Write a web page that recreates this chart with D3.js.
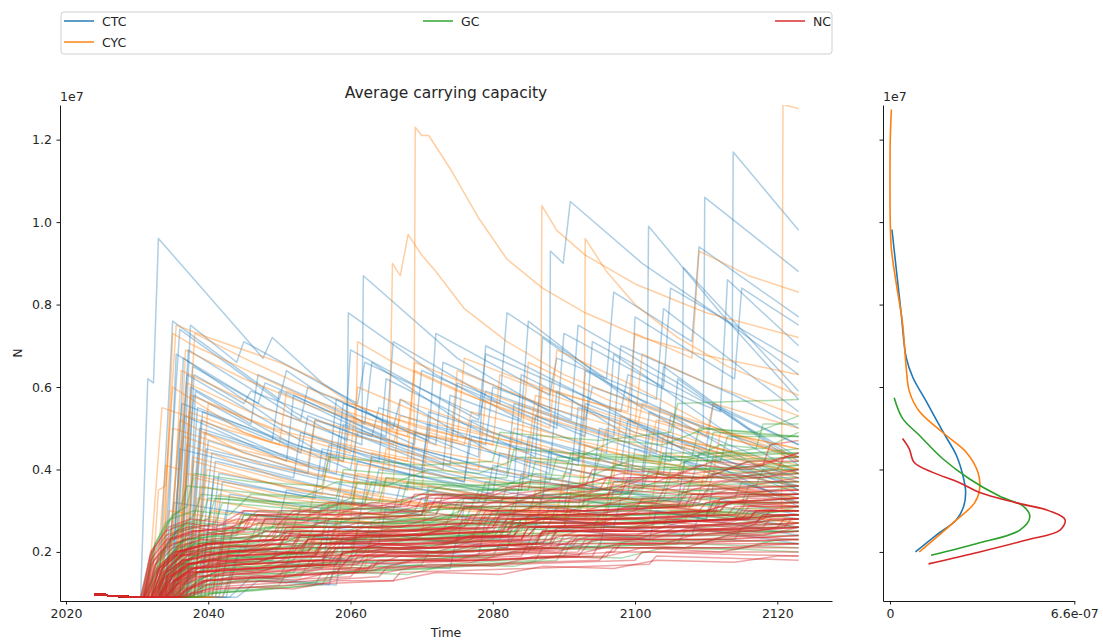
<!DOCTYPE html>
<html>
<head>
<meta charset="utf-8">
<script src="https://cdn.jsdelivr.net/npm/d3@7"></script>
<style>
  body { margin: 0; background: #fff; }
  svg text { font-family: "DejaVu Sans", sans-serif; fill: #262626; }
</style>
</head>
<body>
<svg id="chart" width="1103" height="641"></svg>
<script>
// Runs are flat lists of [year offset from 2000, N in millions, ...]
const yearBase = 2000;
const unit = 1e6;

// Shared observed history that every run starts from
const history = [24,.97, 25.5,.97, 26,.93, 28.5,.92, 29.5,.9];

const ctcRuns = [
  [30.5,.9, 31.5,6.2, 32.3,6.1, 33,9.6, 47.7,6.7, 49,7.2, 56,6.1, 66,5.0, 67,5.7, 80,4.4, 88,3.9, 89,5.9, 101,4.6, 112,3.8, 123,3.3],
  [33,.9, 35,7.6, 50,5.7, 51,6.4, 62,5.1, 63,6.6, 76,5.1, 86,4.3, 87,7.2, 100,5.6, 110,4.6, 113.6,4.4, 113.8,11.7, 123,9.8],
  [34,.9, 35.5,6.8, 48,5.5, 61.6,4.6, 61.8,8.7, 75,6.7, 88,5.4, 88.1,9.3, 89.9,9.0, 90.9,10.5, 101,9.0, 112,7.7, 123,6.3],
  [33.5,.9, 36,7.4, 52,5.4, 59.5,4.7, 59.7,7.8, 72,6.3, 84,5.2, 85,7.6, 97,6.0, 109.6,5.0, 109.8,10.6, 123,8.8],
  [35,.9, 36.5,6.7, 50,5.1, 64,4.2, 65,6.2, 80,4.9, 92,4.2, 93,6.4, 101.7,5.6, 101.9,9.9, 112,7.8, 123,5.7],
  [34.5,.9, 37,6.3, 55,4.5, 58,4.3, 59,5.6, 78,4.3, 79,7.0, 95,5.6, 106.6,4.5, 106.8,8.9, 123,5.9],
  [36,.9, 37.5,6.0, 52,4.6, 70,3.8, 71,5.4, 90,4.3, 99,3.9, 100,7.7, 114,6.2, 115,8.4, 123,7.5],
  [35.5,.9, 38,5.8, 53,4.4, 54,5.3, 73,4.0, 74,5.8, 96,4.4, 97,6.8, 112,5.0, 123,3.9],
  [36.5,.9, 38.5,5.5, 60,4.0, 61,4.9, 82,3.9, 83,5.6, 103,4.4, 104,6.5, 116,5.0, 123,4.3],
  [37,.9, 39,5.2, 55,4.0, 68,3.5, 69,4.9, 91,3.9, 92,5.5, 110,4.5, 111,5.6, 123,4.6],
  [35,.9, 36.7,5.3, 51,4.2, 52,5.8, 67,4.6, 85,3.8, 86,5.3, 105,4.2, 106,6.2, 123,4.1],
  [37.5,.9, 39.5,4.9, 58,3.9, 59,5.1, 77,4.0, 94,3.5, 95,5.0, 113,4.1, 123,3.6],
  [38,.9, 40,4.7, 56,3.8, 57,4.6, 76,3.7, 77,5.2, 98,4.1, 99,5.2, 123,3.5],
  [36,.9, 37.8,6.5, 47,5.6, 48,6.1, 65,4.8, 66,7.1, 81,5.6, 82,7.8, 96,6.2, 97,8.3, 108,7.1, 109,9.4, 123,7.7],
  [38.5,.9, 40.5,4.4, 62,3.5, 63,4.3, 84,3.5, 85,4.8, 104,3.9, 105,5.3, 123,3.5],
  [34,.9, 36.3,5.6, 49,4.7, 50,5.9, 66,4.6, 74,4.1, 75,6.1, 93,4.8, 94,7.1, 109,5.7, 123,4.6],
  [39,.9, 41,4.2, 63,3.3, 64,4.0, 87,3.3, 88,4.5, 108,3.7, 109,4.4, 123,3.4],
  [37,.9, 38.2,5.9, 46,5.1, 47,6.3, 69,4.6, 70,6.4, 89,5.0, 90,7.3, 104,6.0, 105,8.4, 117,7.2, 123,6.6],
  [39.5,.9, 41.5,3.9, 60,3.3, 61,4.2, 80,3.4, 81,4.4, 101,3.6, 102,4.9, 123,3.1],
  [40,.9, 42,3.7, 66,3.0, 67,3.6, 90,3.0, 91,4.0, 123,2.9],
  [36.8,.9, 38.8,5.0, 57,4.0, 58,5.7, 72,4.6, 73,6.6, 91,5.2, 92,7.5, 106,6.1, 123,4.2],
  [35.3,.9, 37.2,6.9, 53,5.2, 54,6.0, 71,4.7, 72,7.3, 88,5.8, 89,6.7, 103,5.7, 104,7.9, 123,5.4],
  [41,.9, 43,3.4, 58,3.0, 59,3.9, 79,3.2, 80,4.1, 99,3.4, 100,4.5, 119,3.7, 123,3.6],
  [38,.9, 39.7,4.5, 54,3.9, 55,5.2, 75,4.0, 83,3.7, 84,6.3, 100,4.9, 111,4.3, 123,3.7],
  [42,.9, 44,1.9, 56,1.6, 57,2.6, 75,2.2, 76,3.1, 97,2.6, 98,3.3, 123,2.6],
  [43,.9, 46,1.4, 58,1.2, 59,2.2, 78,1.9, 79,2.8, 102,2.3, 103,3.0, 123,2.4],
  [40.5,.9, 42.5,3.0, 61,2.6, 62,3.5, 83,2.9, 84,3.9, 106,3.2, 107,4.2, 123,3.2],
  [36.3,.9, 38,6.3, 45,5.6, 46,5.9, 63,4.8, 64,5.5, 79,4.6, 80,6.0, 93,5.2, 94,6.0, 112,4.9, 123,4.3],
  [41.5,.9, 43.5,2.6, 64,2.2, 65,3.1, 86,2.6, 87,3.4, 110,2.8, 111,3.6, 123,3.2],
  [34.8,.9, 36,4.5, 52,3.8, 53,4.9, 70,4.0, 71,5.1, 92,4.1, 93,5.6, 110,4.5, 123,3.8],
  [37.3,.9, 39.2,5.4, 59,4.2, 60,6.9, 78,5.2, 79,5.9, 97,4.8, 98,7.0, 114,5.8, 123,5.0],
  [44,.9, 47,1.3, 57,1.2, 58,1.8, 74,1.6, 75,2.4, 95,2.1, 96,2.9, 123,2.2],
  [38.8,.9, 40.8,3.8, 55,3.3, 56,4.5, 76,3.7, 77,4.8, 101,3.9, 102,5.4, 123,3.9],
  [35.8,.9, 37.5,7.5, 44,6.6, 45,7.1, 61,5.6, 62,6.6, 78,5.3, 79,6.8, 98,5.4, 99,6.3, 112,5.4, 113,8.6, 123,7.0],
  [33.8,.9, 35.2,3.2, 50,2.8, 51,3.5, 70,2.9, 71,3.6, 96,2.9, 97,3.5, 123,2.8],
  [42.5,.9, 44.5,2.1, 60,1.8, 61,2.5, 82,2.1, 83,2.9, 108,2.4, 109,2.9, 123,2.6]
];

const cycRuns = [
  [34,.9, 36,5.2, 45,4.4, 55,3.9, 60,3.7, 68.9,3.5, 69.1,12.3, 70,12.1, 71,12.1, 74,11.3, 78,10.1, 82,9.1, 87,8.4, 93,7.8, 101,7.2, 109,6.8, 123,6.3],
  [33,.9, 35,6.0, 45,4.9, 55,4.3, 65.4,4.0, 65.9,9.0, 67,8.7, 68.1,9.7, 70,9.2, 72,8.8, 76,7.9, 82,7.1, 90,6.3, 100,5.6, 110,5.0, 123,4.5],
  [35,.9, 37,4.6, 50,3.8, 62,3.3, 75,3.1, 86.7,3.0, 86.9,10.4, 89,9.8, 93,9.2, 100,8.5, 110,7.8, 123,7.2],
  [36,.9, 38,4.2, 52,3.5, 70,3.1, 80,3.0, 92.8,3.1, 93,9.6, 96,8.8, 100,8.0, 106,7.2, 113,6.5, 123,5.8],
  [37,.9, 39,3.6, 55,3.0, 72,2.8, 85,2.7, 86,3.5, 110,3.1, 120.6,3.0, 120.8,12.85, 122,12.8, 123,12.75],
  [32,.9, 33,3.5, 34,3.6, 35.5,7.5, 40,7.2, 50,6.6, 55,6.2, 60,5.6, 70,5.0, 80,4.6, 81,6.3, 90,5.7, 100,5.1, 101,6.8, 110,6.1, 123,5.3],
  [33.5,.9, 35,7.3, 38,7.0, 48,6.2, 58,5.4, 68,4.8, 69,6.4, 78,5.7, 88,5.0, 89,6.9, 99,6.1, 110,5.1, 123,4.2],
  [36,.9, 38.1,7.3, 45,6.7, 55,5.9, 65,5.3, 75,4.8, 85,4.4, 86,5.8, 100,5.0, 114,4.4, 123,4.0],
  [38,.9, 40,5.6, 50,4.9, 60,4.4, 61,6.0, 72,5.2, 84,4.6, 85,6.6, 96,5.7, 108,5.0, 123,4.3],
  [34,.9, 36.5,4.8, 48,4.1, 60,3.7, 70,3.5, 71,4.9, 85,4.2, 97,3.8, 98,5.3, 112,4.5, 123,4.0],
  [35,.9, 37,3.9, 50,3.4, 62,3.1, 63,4.4, 78,3.8, 92,3.4, 93,4.6, 108,3.9, 123,3.5],
  [36.5,.9, 38.5,3.3, 52,2.9, 64,2.7, 65,3.8, 81,3.3, 96,3.0, 97,4.2, 113,3.6, 123,3.3],
  [32.5,.9, 34,4.1, 36,4.0, 37,6.1, 47,5.3, 57,4.7, 67,4.3, 78,4.0, 79,5.7, 92,5.0, 104,4.4, 123,3.8],
  [37.5,.9, 39.5,2.8, 55,2.5, 70,2.4, 71,3.5, 88,3.0, 102,2.8, 103,3.9, 123,3.2],
  [39,.9, 41,2.5, 58,2.2, 59,3.0, 75,2.7, 90,2.6, 91,3.5, 110,3.0, 123,2.8],
  [35.5,.9, 37.3,5.4, 48,4.7, 59,4.2, 60,5.2, 74,4.5, 75,6.4, 88,5.5, 100,4.9, 123,3.9],
  [33,.9, 34.5,3.0, 46,2.7, 58,2.6, 59,3.4, 76,3.0, 93,2.8, 94,3.7, 123,3.1],
  [40,.9, 42,2.2, 57,2.0, 58,2.8, 77,2.5, 95,2.4, 96,3.2, 123,2.7],
  [36,.9, 37.8,4.3, 51,3.7, 64,3.4, 65,4.5, 83,3.9, 98,3.5, 99,4.3, 123,3.6],
  [38.5,.9, 40.5,3.0, 54,2.7, 55,3.6, 73,3.1, 89,2.9, 90,3.9, 109,3.4, 110,4.1, 123,3.7],
  [41,.9, 43,2.0, 60,1.9, 61,2.6, 82,2.4, 83,3.0, 107,2.7, 108,3.3, 123,3.0],
  [34.5,.9, 36.2,6.4, 46,5.6, 56,5.0, 66,4.6, 67,5.3, 82,4.7, 95,4.2, 96,5.0, 110,4.4, 123,3.9],
  [37,.9, 39,4.9, 53,4.1, 66,3.7, 67,5.7, 80,4.9, 93,4.3, 106,3.8, 107,4.6, 123,4.0],
  [39.5,.9, 41.5,3.4, 60,2.8, 61,3.9, 80,3.3, 92,3.0, 93,4.1, 114,3.5, 123,3.3],
  [35.8,.9, 37.5,5.8, 49,5.0, 60,4.5, 68,4.2, 69,6.6, 80,5.8, 90,5.2, 100,4.7, 101,5.6, 115,4.8, 123,4.3],
  [42,.9, 44,1.7, 62,1.6, 63,2.4, 84,2.2, 85,2.9, 104,2.6, 105,3.0, 123,2.6],
  [38,.9, 39.8,4.0, 56,3.4, 57,4.4, 71,3.9, 84,3.5, 85,4.3, 103,3.8, 104,4.8, 123,4.1],
  [33.2,.9, 35,5.0, 44,4.5, 54,4.1, 55,5.2, 70,4.5, 82,4.1, 83,5.0, 97,4.4, 111,3.9, 112,4.9, 123,4.5],
  [36.3,.9, 38,3.8, 50,3.3, 60.5,3.1, 61,7.1, 66,6.6, 75,5.9, 86,5.2, 87,6.0, 100,5.3, 110,4.8, 111,5.6, 123,5.0],
  [40.5,.9, 42.5,2.6, 56,2.4, 57,3.2, 74,2.9, 90,2.7, 91,3.4, 109,3.0, 123,2.7],
  [31.5,.9, 33.5,5.5, 42,5.0, 50,4.6, 51,5.9, 63,5.2, 76,4.6, 77,5.4, 92,4.7, 102,4.3, 103,5.2, 123,4.3],
  [35.2,.9, 36.8,6.9, 45,6.2, 55,5.5, 65,5.0, 75,4.7, 76,6.7, 88,5.9, 99,5.4, 100,7.3, 108,6.7, 109,9.3, 116,8.7, 123,8.3]
];

const gcRuns = [
  [31,.9, 33,1.6, 36,2.1, 42,2.3, 50,2.4, 51,2.8, 63,2.7, 75,2.9, 76,3.3, 90,3.3, 104,3.5, 105,4.0, 123,4.1],
  [32,.9, 34,1.5, 38,1.9, 48,2.0, 60,2.1, 61,2.5, 75,2.5, 88,2.7, 89,3.1, 105,3.1, 123,3.3],
  [33,.9, 35,1.4, 39,1.8, 47,1.9, 55,2.0, 56,2.3, 70,2.4, 84,2.5, 85,2.9, 100,2.9, 115,3.0, 116,3.4, 123,3.4],
  [34,.9, 36,1.3, 40,1.6, 52,1.8, 53,2.1, 68,2.1, 80,2.3, 81,2.6, 98,2.6, 112,2.8, 123,2.9],
  [31.5,.9, 33,1.8, 35,2.4, 38,2.9, 39,3.4, 50,3.2, 60,3.1, 61,3.7, 75,3.5, 85,3.5, 86,4.2, 100,4.0, 110,4.1, 111,4.9, 123,4.8],
  [35,.9, 37,1.2, 41,1.5, 50,1.6, 58,1.7, 59,2.0, 72,2.0, 86,2.1, 87,2.5, 104,2.5, 123,2.6],
  [36,.9, 38,1.1, 42,1.3, 50,1.4, 51,1.7, 66,1.8, 80,1.9, 81,2.2, 100,2.3, 114,2.3, 115,2.6, 123,2.6],
  [32.5,.9, 34,1.7, 37,2.2, 44,2.4, 45,2.9, 58,2.8, 70,2.9, 71,3.4, 84,3.3, 96,3.5, 97,4.1, 112,4.0, 123,4.2],
  [33.5,.9, 35.5,1.6, 39,2.0, 49,2.1, 62,2.3, 63,2.7, 79,2.7, 92,2.9, 93,3.3, 110,3.3, 123,3.4],
  [37,.9, 39,1.0, 44,1.1, 50,1.2, 51,1.5, 60,1.5, 70,1.7, 71,2.0, 90,2.1, 106,2.2, 107,2.5, 123,2.5],
  [38,.9, 40,1.0, 46,1.05, 55,1.2, 56,1.5, 70,1.6, 86,1.8, 87,2.1, 108,2.2, 123,2.1],
  [30.5,.9, 32,2.0, 34,2.7, 36,3.0, 37,3.6, 48,3.4, 58,3.3, 59,4.0, 72,3.8, 82,3.8, 83,4.5, 98,4.3, 108,4.3, 109,5.0, 123,4.8],
  [34.5,.9, 36.5,1.5, 40,1.9, 45,2.0, 46,2.4, 60,2.3, 73,2.5, 74,2.9, 91,2.9, 106,3.1, 107,3.6, 123,3.7],
  [32,.9, 33.5,1.9, 36,2.5, 41,2.7, 42,3.2, 55,3.0, 67,3.1, 68,3.7, 83,3.5, 94,3.7, 95,4.3, 112,4.2, 113,4.8, 123,4.8],
  [35.5,.9, 37.5,1.4, 41,1.7, 53,1.9, 54,2.3, 69,2.3, 83,2.5, 84,2.8, 102,2.9, 123,3.0],
  [33,.9, 35,1.7, 38,2.2, 47,2.4, 48,2.8, 64,2.7, 78,2.9, 79,3.3, 95,3.3, 110,3.4, 111,3.9, 123,4.0],
  [36.5,.9, 38.5,1.3, 42,1.6, 54,1.7, 55,2.0, 70,2.0, 85,2.2, 86,2.6, 105,2.6, 123,2.8],
  [31,.9, 32.5,2.2, 35,2.9, 37,3.1, 38,3.9, 46,3.7, 56,3.6, 57,4.3, 70,4.1, 80,4.2, 81,4.9, 95,4.7, 105,4.9, 106,5.6, 123,5.7],
  [34,.9, 36,1.5, 39,1.9, 50,2.1, 51,2.5, 66,2.5, 80,2.7, 81,3.1, 99,3.1, 115,3.2, 116,3.6, 123,3.6],
  [37.5,.9, 39.5,1.2, 43,1.4, 52,1.5, 53,1.8, 68,1.9, 82,2.1, 83,2.4, 101,2.4, 123,2.5],
  [32.5,.9, 34.5,1.6, 37,2.0, 45,2.2, 56,2.4, 57,2.8, 72,2.8, 85,3.0, 86,3.4, 102,3.4, 117,3.6, 118,4.0, 123,4.0],
  [35,.9, 37,1.3, 40,1.7, 51,1.8, 62,2.0, 63,2.3, 79,2.4, 94,2.5, 95,2.9, 113,2.9, 123,3.0],
  [33,.9, 34.5,1.9, 37,2.4, 42,2.5, 52,2.6, 53,3.1, 66,3.0, 78,3.2, 79,3.7, 92,3.6, 103,3.8, 104,4.4, 123,4.4],
  [38.5,.9, 40.5,1.0, 47,1.1, 57,1.3, 58,1.6, 74,1.7, 90,1.9, 91,2.2, 112,2.3, 123,2.2],
  [36,.9, 38,1.4, 42,1.7, 49,1.8, 50,2.2, 64,2.2, 77,2.3, 78,2.7, 96,2.7, 110,2.8, 111,3.2, 123,3.2],
  [34,.9, 35.5,1.8, 38,2.3, 44,2.5, 45,2.9, 59,2.8, 72,2.9, 73,3.4, 88,3.3, 101,3.5, 102,4.0, 118,4.0, 123,4.1],
  [31.5,.9, 33,1.7, 35.5,2.2, 41,2.5, 49,2.6, 50,3.0, 65,2.9, 77,3.1, 78,3.5, 93,3.5, 106,3.7, 107,4.2, 123,4.3],
  [37,.9, 39,1.2, 42,1.5, 56,1.7, 57,2.0, 73,2.1, 88,2.2, 89,2.6, 109,2.6, 123,2.7],
  [32,.9, 33.5,2.0, 36,2.6, 40,2.8, 41,3.3, 53,3.1, 64,3.2, 65,3.8, 79,3.6, 90,3.8, 91,4.4, 107,4.3, 117,4.5, 118,5.1, 123,5.1],
  [35.5,.9, 37.5,1.5, 41,1.8, 48,1.9, 58,2.0, 59,2.4, 75,2.4, 90,2.6, 91,3.0, 108,3.0, 123,3.1],
  [33.5,.9, 35,1.8, 38,2.2, 46,2.3, 47,2.7, 61,2.6, 74,2.8, 75,3.2, 90,3.2, 104,3.3, 105,3.8, 123,3.8],
  [39,.9, 41,1.0, 48,1.1, 56,1.2, 57,1.5, 72,1.6, 89,1.8, 90,2.1, 111,2.1, 123,2.0],
  [34.5,.9, 36,1.6, 39,2.0, 44,2.1, 54,2.3, 55,2.7, 69,2.7, 82,2.8, 83,3.2, 99,3.2, 114,3.3, 115,3.7, 123,3.7],
  [36.5,.9, 38.5,1.3, 42,1.6, 51,1.7, 52,2.1, 67,2.1, 81,2.3, 82,2.7, 100,2.7, 116,2.8, 123,2.9],
  [31,.9, 32.5,2.0, 35,2.6, 39,2.8, 40,3.3, 51,3.2, 62,3.2, 63,3.7, 76,3.6, 88,3.7, 89,4.3, 104,4.2, 123,4.5],
  [33,.9, 35,1.5, 38,1.9, 43,2.0, 57,2.2, 58,2.6, 71,2.6, 87,2.7, 88,3.1, 103,3.1, 123,3.2],
  [35,.9, 36.5,1.7, 39,2.1, 47,2.2, 48,2.6, 61,2.6, 76,2.7, 77,3.1, 94,3.1, 107,3.3, 108,3.8, 123,3.9],
  [32,.9, 34,1.8, 36.5,2.3, 43,2.4, 55,2.6, 56,3.1, 69,3.0, 81,3.1, 82,3.6, 97,3.5, 110,3.7, 111,4.3, 123,4.4],
  [37.5,.9, 39.5,1.1, 44,1.3, 53,1.4, 54,1.7, 69,1.8, 85,2.0, 86,2.3, 106,2.4, 123,2.4],
  [34,.9, 36,1.4, 40,1.8, 51,1.9, 52,2.2, 67,2.3, 83,2.4, 84,2.8, 103,2.8, 123,2.9],
  [31.2,.9, 33,1.9, 35.5,2.5, 39,2.7, 44,2.6, 47,3.0, 54,2.9, 60,3.3, 67,3.2, 73,3.6, 80,3.5, 86,3.9, 93,3.8, 99,4.2, 106,4.1, 112,4.6, 118,4.5, 123,4.9],
  [33.2,.9, 35,1.6, 37.8,2.0, 42,2.1, 48,2.0, 53,2.4, 60,2.3, 66,2.6, 74,2.5, 80,2.9, 88,2.8, 94,3.2, 102,3.1, 108,3.5, 116,3.4, 123,3.6],
  [35.8,.9, 37.8,1.2, 41,1.4, 46,1.5, 52,1.45, 57,1.7, 65,1.65, 71,1.9, 79,1.85, 85,2.1, 94,2.05, 100,2.3, 109,2.2, 115,2.5, 123,2.5],
  [32.2,.9, 34,1.8, 36.8,2.3, 41,2.4, 46,2.3, 50,2.7, 57,2.6, 63,3.0, 70,2.9, 76,3.3, 83,3.2, 89,3.6, 96,3.5, 102,3.9, 110,3.8, 116,4.2, 123,4.3],
  [34.2,.9, 36,1.5, 39,1.8, 44,1.9, 50,1.85, 55,2.1, 62,2.05, 68,2.3, 76,2.25, 82,2.6, 90,2.5, 96,2.8, 104,2.7, 110,3.0, 118,2.9, 123,3.1],
  [30.8,.9, 32.4,2.1, 34.8,2.8, 38,3.0, 43,2.9, 46,3.4, 53,3.3, 58,3.7, 65,3.6, 71,4.0, 78,3.9, 84,4.3, 91,4.2, 97,4.7, 104,4.6, 110,5.0, 117,4.9, 123,5.3],
  [36.8,.9, 38.8,1.1, 42,1.25, 48,1.3, 54,1.25, 60,1.5, 68,1.45, 74,1.7, 83,1.65, 89,1.9, 98,1.85, 104,2.1, 114,2.05, 120,2.3, 123,2.3],
  [32.8,.9, 34.6,1.7, 37.3,2.1, 41,2.2, 47,2.1, 51,2.5, 58,2.4, 64,2.8, 71,2.7, 77,3.1, 84,3.0, 90,3.4, 97,3.3, 103,3.7, 111,3.6, 117,3.9, 123,3.9]
];

const ncRuns = [
  [31,.9, 32.5,1.5, 35,1.9, 40,2.1, 50,2.2, 51,2.4, 62,2.4, 75,2.6, 76,2.8, 90,2.9, 100,3.0, 101,3.3, 123,3.4],
  [32,.9, 33.5,1.3, 36,1.7, 42,1.8, 55,1.9, 56,2.1, 70,2.2, 85,2.4, 86,2.6, 103,2.7, 123,2.9],
  [33,.9, 34.5,1.2, 37,1.5, 45,1.6, 57,1.7, 58,1.9, 72,2.0, 88,2.1, 89,2.4, 107,2.4, 123,2.6],
  [31.5,.9, 33,1.6, 35.5,2.0, 39,2.2, 48,2.3, 49,2.5, 63,2.5, 76,2.6, 77,2.9, 94,3.0, 108,3.1, 109,3.4, 123,3.5],
  [34,.9, 35.5,1.2, 38,1.4, 44,1.5, 54,1.6, 55,1.8, 70,1.8, 84,1.9, 85,2.2, 104,2.2, 123,2.3],
  [32.5,.9, 34,1.4, 37,1.8, 43,2.0, 53,2.0, 54,2.3, 67,2.3, 81,2.4, 82,2.7, 99,2.7, 114,2.8, 115,3.0, 123,3.0],
  [35,.9, 36.5,1.1, 39,1.3, 46,1.4, 58,1.5, 59,1.7, 76,1.8, 92,1.9, 93,2.1, 112,2.1, 123,2.2],
  [30.8,.9, 32,1.7, 34,2.1, 38,2.4, 47,2.5, 48,2.8, 60,2.8, 72,2.9, 73,3.2, 87,3.2, 99,3.3, 100,3.6, 116,3.6, 123,3.8],
  [33.5,.9, 35,1.3, 37.5,1.6, 44,1.8, 56,1.9, 57,2.1, 71,2.1, 86,2.3, 87,2.5, 105,2.6, 123,2.7],
  [36,.9, 37.5,1.0, 40,1.2, 48,1.3, 60,1.4, 61,1.6, 78,1.7, 95,1.8, 96,2.0, 123,2.0],
  [32,.9, 33.5,1.5, 36,1.9, 41,2.1, 52,2.2, 53,2.5, 66,2.4, 80,2.6, 81,2.9, 97,2.9, 112,3.0, 113,3.2, 123,3.2],
  [34.5,.9, 36,1.2, 38.5,1.5, 47,1.6, 60,1.8, 61,2.0, 77,2.0, 91,2.2, 92,2.4, 110,2.5, 123,2.6],
  [31,.9, 32.5,1.7, 35,2.2, 39,2.4, 45,2.5, 46,2.8, 58,2.8, 70,2.9, 71,3.2, 84,3.2, 96,3.3, 97,3.7, 111,3.7, 123,3.9],
  [33,.9, 34.5,1.4, 37,1.7, 42,1.9, 52,2.0, 53,2.2, 68,2.2, 82,2.4, 83,2.6, 100,2.7, 115,2.8, 116,3.0, 123,3.0],
  [35.5,.9, 37,1.1, 39.5,1.3, 50,1.4, 63,1.6, 64,1.8, 80,1.8, 97,2.0, 98,2.2, 123,2.3],
  [32,.9, 33.5,1.6, 36,2.0, 40,2.2, 50,2.3, 51,2.6, 64,2.6, 78,2.7, 79,3.0, 94,3.0, 109,3.2, 110,3.5, 123,3.6],
  [34,.9, 35.5,1.3, 38,1.6, 45,1.7, 58,1.8, 59,2.0, 73,2.1, 88,2.2, 89,2.5, 106,2.5, 123,2.7],
  [30.5,.9, 31.8,1.9, 34,2.4, 37,2.6, 44,2.7, 45,3.0, 57,3.0, 68,3.1, 69,3.4, 82,3.4, 93,3.6, 94,4.0, 108,3.9, 118,4.1, 119,4.6, 123,4.7],
  [33,.9, 34.5,1.3, 37,1.6, 43,1.8, 55,1.9, 56,2.2, 69,2.2, 84,2.3, 85,2.6, 102,2.6, 117,2.7, 118,2.9, 123,2.9],
  [36.5,.9, 38,1.0, 41,1.15, 50,1.25, 64,1.4, 65,1.6, 83,1.7, 100,1.8, 101,2.0, 123,1.9],
  [31.5,.9, 33,1.5, 35.5,1.9, 41,2.0, 50,2.1, 51,2.4, 65,2.4, 79,2.5, 80,2.8, 96,2.8, 110,2.9, 111,3.2, 123,3.3],
  [32.5,.9, 34,1.5, 36.5,1.8, 42,2.0, 54,2.1, 55,2.4, 68,2.4, 81,2.5, 82,2.8, 98,2.8, 113,2.9, 114,3.1, 123,3.2],
  [34,.9, 35.5,1.2, 38,1.5, 46,1.6, 59,1.7, 60,1.9, 75,1.9, 90,2.1, 91,2.3, 109,2.3, 123,2.5],
  [31,.9, 32.3,1.8, 34.5,2.3, 38,2.5, 46,2.6, 47,2.9, 59,2.9, 71,3.0, 72,3.3, 86,3.3, 98,3.4, 99,3.8, 114,3.8, 123,4.0],
  [33.5,.9, 35,1.4, 37.5,1.7, 44,1.9, 57,2.0, 58,2.2, 72,2.3, 87,2.4, 88,2.7, 104,2.7, 123,2.9],
  [35,.9, 36.5,1.2, 39,1.4, 48,1.5, 61,1.7, 62,1.9, 78,1.9, 93,2.1, 94,2.3, 113,2.3, 123,2.4],
  [32,.9, 33.5,1.6, 36,2.0, 41,2.2, 51,2.3, 52,2.5, 66,2.5, 80,2.6, 81,2.9, 97,2.9, 111,3.0, 112,3.3, 123,3.4],
  [33,.9, 34.5,1.5, 37,1.9, 43,2.0, 53,2.1, 54,2.3, 67,2.4, 82,2.5, 83,2.8, 99,2.8, 114,2.9, 115,3.1, 123,3.1],
  [34.5,.9, 36,1.3, 38.5,1.6, 45,1.7, 56,1.8, 57,2.0, 71,2.1, 86,2.2, 87,2.5, 104,2.5, 118,2.6, 119,2.8, 123,2.8],
  [31.2,.9, 32.6,1.7, 35,2.1, 39,2.3, 49,2.4, 50,2.7, 62,2.7, 75,2.8, 76,3.1, 91,3.1, 103,3.2, 104,3.5, 123,3.6],
  [36,.9, 37.5,1.1, 40,1.3, 49,1.4, 62,1.5, 63,1.7, 79,1.8, 96,1.9, 97,2.1, 123,2.1],
  [32.8,.9, 34.2,1.4, 36.8,1.8, 42,1.9, 54,2.0, 55,2.3, 69,2.3, 83,2.4, 84,2.7, 101,2.7, 116,2.8, 117,3.0, 123,3.1],
  [33.8,.9, 35.2,1.3, 37.8,1.6, 45,1.8, 57,1.9, 58,2.1, 73,2.2, 88,2.3, 89,2.5, 107,2.6, 123,2.8],
  [31.8,.9, 33.2,1.6, 35.8,2.0, 40,2.2, 49,2.3, 50,2.6, 63,2.6, 77,2.7, 78,3.0, 93,3.0, 107,3.1, 108,3.4, 123,3.5],
  [35.2,.9, 36.7,1.2, 39.2,1.4, 47,1.5, 60,1.6, 61,1.9, 76,1.9, 92,2.0, 93,2.3, 111,2.3, 123,2.4],
  [32.2,.9, 33.7,1.5, 36.2,1.9, 41,2.1, 52,2.2, 53,2.4, 67,2.5, 81,2.6, 82,2.8, 98,2.9, 112,3.0, 113,3.2, 123,3.3],
  [33.2,.9, 34.7,1.4, 37.2,1.7, 43,1.9, 55,2.0, 56,2.2, 70,2.3, 85,2.4, 86,2.6, 103,2.7, 118,2.8, 119,3.0, 123,3.0],
  [30.6,.9, 31.9,1.8, 34.2,2.3, 37.5,2.5, 45,2.6, 46,2.9, 58,2.9, 69,3.0, 70,3.3, 83,3.3, 95,3.5, 96,3.8, 110,3.8, 120,4.0, 121,4.3, 123,4.3],
  [34.2,.9, 35.7,1.2, 38.2,1.5, 46,1.6, 58,1.7, 59,2.0, 74,2.0, 89,2.1, 90,2.4, 108,2.4, 123,2.6],
  [37,.9, 38.5,1.0, 41.5,1.1, 52,1.2, 66,1.3, 67,1.5, 85,1.6, 102,1.7, 103,1.9, 123,1.8],
  [32.4,.9, 33.9,1.5, 36.4,1.8, 42,2.0, 53,2.1, 54,2.3, 68,2.4, 82,2.5, 83,2.7, 100,2.8, 115,2.9, 116,3.1, 123,3.1],
  [33.6,.9, 35.1,1.3, 37.6,1.6, 44,1.7, 56,1.8, 57,2.1, 71,2.1, 86,2.2, 87,2.5, 105,2.5, 120,2.6, 121,2.8, 123,2.8],
  [31.3,.9, 32.7,1.6, 35.2,2.0, 40,2.2, 50,2.3, 51,2.5, 64,2.5, 78,2.6, 79,2.9, 95,2.9, 109,3.0, 110,3.2, 123,3.3],
  [34.8,.9, 36.3,1.2, 38.8,1.5, 46,1.6, 59,1.7, 60,1.9, 75,2.0, 91,2.1, 92,2.3, 110,2.4, 123,2.5],
  [32.6,.9, 34.1,1.5, 36.6,1.8, 42,2.0, 52,2.1, 53,2.4, 66,2.4, 80,2.5, 81,2.8, 96,2.8, 111,2.9, 112,3.2, 123,3.2],
  [33.4,.9, 34.9,1.4, 37.4,1.7, 44,1.8, 55,1.9, 56,2.2, 70,2.2, 84,2.3, 85,2.6, 102,2.6, 117,2.7, 118,2.9, 123,2.9],
  [31.6,.9, 33.1,1.6, 35.6,2.0, 40,2.2, 51,2.3, 52,2.6, 65,2.6, 79,2.7, 80,3.0, 95,3.0, 106,3.1, 107,3.4, 123,3.4],
  [35.8,.9, 37.3,1.1, 39.8,1.3, 48,1.4, 61,1.5, 62,1.8, 78,1.8, 94,1.9, 95,2.2, 115,2.2, 123,2.2],
  [32.9,.9, 34.4,1.4, 36.9,1.7, 43,1.9, 54,2.0, 55,2.2, 69,2.3, 83,2.4, 84,2.6, 101,2.7, 116,2.8, 117,3.0, 123,3.0],
  [34.1,.9, 35.6,1.3, 38.1,1.6, 45,1.7, 57,1.8, 58,2.1, 72,2.1, 87,2.2, 88,2.5, 106,2.5, 121,2.6, 122,2.8, 123,2.8],
  [30.7,.9, 31.9,2.0, 34,2.5, 37,2.7, 41,2.6, 44,2.8, 50,2.7, 52,3.0, 58,2.9, 63,3.2, 70,3.1, 76,3.4, 84,3.3, 90,3.6, 97,3.5, 103,3.9, 110,3.8, 116,4.2, 123,4.2],
  [31.4,.9, 32.8,1.8, 35,2.3, 39,2.5, 43,2.4, 47,2.7, 54,2.6, 59,2.9, 66,2.8, 72,3.1, 80,3.0, 85,3.3, 92,3.2, 98,3.5, 106,3.4, 112,3.7, 123,3.7],
  [33.7,.9, 35.2,1.3, 37.7,1.5, 42,1.6, 47,1.5, 52,1.8, 60,1.8, 64,2.0, 72,1.9, 78,2.2, 86,2.1, 92,2.4, 100,2.3, 106,2.6, 114,2.5, 119,2.8, 123,2.8],
  [32.3,.9, 33.8,1.5, 36.3,1.9, 40,2.0, 45,1.9, 49,2.2, 56,2.1, 62,2.4, 68,2.3, 74,2.6, 81,2.5, 87,2.8, 95,2.7, 101,3.0, 108,2.9, 114,3.2, 123,3.1],
  [34.6,.9, 36.1,1.2, 38.6,1.4, 43,1.5, 49,1.4, 54,1.7, 62,1.6, 67,1.9, 75,1.8, 81,2.1, 89,2.0, 95,2.3, 104,2.2, 110,2.5, 118,2.4, 123,2.6],
  [31.9,.9, 33.3,1.7, 35.9,2.1, 39,2.3, 44,2.2, 48,2.5, 55,2.4, 61,2.7, 67,2.6, 73,2.9, 80,2.8, 86,3.1, 93,3.0, 99,3.3, 107,3.2, 113,3.5, 123,3.5],
  [35.4,.9, 36.9,1.1, 39.4,1.2, 45,1.3, 51,1.25, 57,1.5, 65,1.5, 71,1.7, 80,1.65, 86,1.9, 95,1.85, 101,2.1, 112,2.0, 118,2.2, 123,2.2],
  [30.9,.9, 32.2,1.9, 34.6,2.4, 38,2.6, 42,2.5, 46,2.8, 53,2.7, 58,3.0, 65,2.9, 71,3.2, 78,3.1, 84,3.4, 91,3.3, 97,3.6, 104,3.5, 111,3.9, 118,3.8, 123,4.0],
  [33.1,.9, 34.6,1.4, 37.1,1.7, 41,1.8, 46,1.7, 51,2.0, 58,1.9, 64,2.2, 71,2.1, 77,2.4, 85,2.3, 91,2.6, 99,2.5, 105,2.8, 113,2.7, 119,3.0, 123,3.0],
  [34.3,.9, 35.8,1.3, 38.3,1.5, 43,1.6, 48,1.55, 53,1.8, 61,1.75, 66,2.0, 74,1.95, 80,2.2, 88,2.1, 94,2.4, 102,2.3, 108,2.6, 117,2.5, 123,2.7],
  [32.7,.9, 34.2,1.6, 36.7,2.0, 40,2.1, 45,2.0, 50,2.3, 57,2.2, 63,2.5, 70,2.4, 76,2.7, 83,2.6, 89,2.9, 96,2.8, 102,3.1, 110,3.0, 116,3.3, 123,3.3],
  [36.2,.9, 37.7,1.0, 40.2,1.1, 46,1.15, 52,1.1, 58,1.3, 66,1.3, 72,1.5, 81,1.45, 87,1.65, 97,1.6, 103,1.8, 114,1.75, 120,1.9, 123,1.9],
  [31.1,.9, 32.4,1.8, 34.8,2.3, 38,2.5, 43,2.6, 47,2.9, 53,2.8, 59,3.2, 66,3.1, 72,3.4, 79,3.3, 85,3.7, 92,3.6, 98,3.9, 105,3.8, 111,4.2, 117,4.1, 123,4.4],
  [33.9,.9, 35.4,1.3, 37.9,1.6, 42,1.7, 47,1.6, 52,1.9, 59,1.85, 65,2.1, 72,2.0, 78,2.3, 86,2.2, 92,2.5, 100,2.4, 106,2.7, 114,2.6, 120,2.9, 123,2.9],
  [32.1,.9, 33.6,1.6, 36.1,2.0, 40,2.2, 46,2.1, 50,2.4, 57,2.3, 62,2.6, 69,2.5, 75,2.8, 82,2.7, 88,3.0, 95,2.9, 101,3.2, 108,3.1, 115,3.4, 123,3.4],
  [35.6,.9, 37.1,1.1, 39.6,1.3, 44,1.4, 50,1.35, 56,1.6, 63,1.55, 69,1.8, 77,1.75, 83,2.0, 92,1.95, 98,2.2, 107,2.1, 113,2.4, 123,2.3],
  [30.9,.9, 32.1,2.0, 34.4,2.6, 37.5,2.8, 42,2.7, 45,3.0, 52,2.9, 57,3.2, 64,3.1, 70,3.4, 77,3.3, 83,3.6, 90,3.5, 96,3.8, 103,3.7, 109,4.1, 116,4.0, 123,4.4],
  [33.3,.9, 34.8,1.4, 37.3,1.7, 41,1.8, 47,1.75, 51,2.0, 59,1.95, 64,2.2, 72,2.1, 77,2.4, 85,2.35, 90,2.6, 98,2.5, 104,2.8, 112,2.7, 118,3.0, 123,3.0]
];

// Density of the final N for each scenario: [N (x1e7), density (x1e-7)]
const ctcDensity = [[0.2,0.91],[0.241,1.66],[0.278,2.38],[0.311,2.64],[0.344,2.71],[0.377,2.64],[0.434,2.38],[0.491,1.90],[0.565,1.30],[0.623,0.82],[0.672,0.58],[0.779,0.40],[0.982,0.07]];
const cycDensity = [[0.2,1.05],[0.27,2.25],[0.319,3.03],[0.352,3.21],[0.393,3.15],[0.442,2.73],[0.483,2.01],[0.541,1.05],[0.59,0.69],[0.648,0.58],[0.754,0.45],[0.853,0.22],[0.935,0.05],[1.0,0.01],[1.099,0.0],[1.2,0.01],[1.273,0.05]];
const gcDensity = [[0.192,1.47],[0.22,3.09],[0.253,4.65],[0.286,5.01],[0.311,4.77],[0.335,3.93],[0.377,2.85],[0.426,1.89],[0.483,1.05],[0.524,0.45],[0.574,0.15]];
const ncDensity = [[0.171,1.38],[0.2,3.21],[0.229,4.89],[0.253,6.09],[0.278,6.27],[0.299,5.73],[0.319,4.53],[0.344,3.21],[0.368,2.49],[0.393,1.53],[0.417,0.87],[0.45,0.69],[0.475,0.45]];

const seriesNames = ["CTC", "CYC", "GC", "NC"];
const seriesColours = ["#1f77b4", "#ff7f0e", "#2ca02c", "#d62728"];
const seriesOpacity = [0.36, 0.38, 0.38, 0.42];
const yearTicks = [2020, 2040, 2060, 2080, 2100, 2120];
const nTicks = [0.2e7, 0.4e7, 0.6e7, 0.8e7, 1.0e7, 1.2e7];
const densityTicks = [0, 6.6e-7];

const svg = d3.select("#chart");

// Main panel and density panel share the N axis
const x = d3.scaleLinear().domain([2019.16, 2127.69]).range([60, 832]);
const y = d3.scaleLinear().domain([0.081e7, 1.284e7]).range([601, 105]);
const xd = d3.scaleLinear().domain([-0.25e-7, 6.6e-7]).range([883, 1074.3]);

svg.append("defs").append("clipPath").attr("id", "plot-clip")
  .append("rect").attr("x", 60).attr("y", 105).attr("width", 772).attr("height", 496);

function runPoints(run) {
  const flat = history.concat(run);
  const pts = [];
  for (let i = 0; i < flat.length; i += 2) pts.push([yearBase + flat[i], flat[i + 1] * unit]);
  return pts;
}

const runLine = d3.line().x(d => x(d[0])).y(d => y(d[1]));
const runsBySeries = [ctcRuns, cycRuns, gcRuns, ncRuns];

const traces = svg.append("g").attr("clip-path", "url(#plot-clip)");
runsBySeries.forEach((runs, k) => {
  traces.append("g")
    .selectAll("path")
    .data(runs)
    .join("path")
    .attr("d", r => runLine(runPoints(r)))
    .attr("fill", "none")
    .attr("stroke", seriesColours[k])
    .attr("stroke-width", 1.5)
    .attr("stroke-opacity", seriesOpacity[k])
    .attr("stroke-linejoin", "round");
});

function styleAxis(g) {
  g.select(".domain").attr("stroke", "#000").attr("stroke-width", 0.9);
  g.selectAll(".tick line").attr("stroke", "#000").attr("stroke-width", 0.9);
  g.selectAll(".tick text").attr("font-size", 12.5).attr("fill", "#262626")
    .attr("font-family", "DejaVu Sans, sans-serif");
}

// Main axes
svg.append("g").attr("transform", "translate(0,601)")
  .call(d3.axisBottom(x).tickValues(yearTicks).tickFormat(d3.format("d"))
    .tickSize(3.5).tickPadding(5).tickSizeOuter(0))
  .call(styleAxis);

svg.append("g").attr("transform", "translate(60,0)")
  .call(d3.axisLeft(y).tickValues(nTicks).tickFormat(d => (d / 1e7).toFixed(1))
    .tickSize(3.5).tickPadding(4.5).tickSizeOuter(0))
  .call(styleAxis);

svg.append("text").attr("x", 60).attr("y", 101).attr("font-size", 12.5).text("1e7");
svg.append("text").attr("x", 446).attr("y", 98).attr("text-anchor", "middle")
  .attr("font-size", 15.5).text("Average carrying capacity");
svg.append("text").attr("x", 446).attr("y", 637).attr("text-anchor", "middle")
  .attr("font-size", 12.5).text("Time");
svg.append("text").attr("transform", "translate(22,353) rotate(-90)")
  .attr("text-anchor", "middle").attr("font-size", 12.5).text("N");

// Density panel
const densityLine = d3.line()
  .x(d => xd(d[1] * 1e-7))
  .y(d => y(d[0] * 1e7))
  .curve(d3.curveCatmullRom.alpha(0.5));

[ctcDensity, cycDensity, gcDensity, ncDensity].forEach((pts, k) => {
  svg.append("path")
    .attr("d", densityLine(pts))
    .attr("fill", "none")
    .attr("stroke", seriesColours[k])
    .attr("stroke-width", 1.6);
});

const sciFormat = d => d === 0 ? "0" : d.toExponential(1).replace(/e([+-])(\d)$/, "e$10$2");

svg.append("g").attr("transform", "translate(0,601)")
  .call(d3.axisBottom(xd).tickValues(densityTicks).tickFormat(sciFormat)
    .tickSize(3.5).tickPadding(5).tickSizeOuter(0))
  .call(styleAxis);

svg.append("g").attr("transform", "translate(883,0)")
  .call(d3.axisLeft(y).tickValues(nTicks).tickFormat("")
    .tickSize(3.5).tickSizeOuter(0))
  .call(styleAxis);

svg.append("text").attr("x", 883).attr("y", 101).attr("font-size", 12.5).text("1e7");

// Legend across the top
const legend = svg.append("g");
legend.append("rect")
  .attr("x", 61).attr("y", 12).attr("width", 771).attr("height", 42)
  .attr("rx", 3).attr("fill", "#fff").attr("stroke", "#d0d0d0").attr("stroke-width", 1);

const legendSlots = [[64, 21], [64, 42], [423, 21], [775, 21]];
seriesNames.forEach((name, k) => {
  const [lx, ly] = legendSlots[k];
  legend.append("line")
    .attr("x1", lx).attr("x2", lx + 30).attr("y1", ly).attr("y2", ly)
    .attr("stroke", seriesColours[k]).attr("stroke-width", 1.8).attr("stroke-opacity", 0.8);
  legend.append("text")
    .attr("x", lx + 38).attr("y", ly + 4.5)
    .attr("font-size", 12.5).text(name);
});
</script>
</body>
</html>
